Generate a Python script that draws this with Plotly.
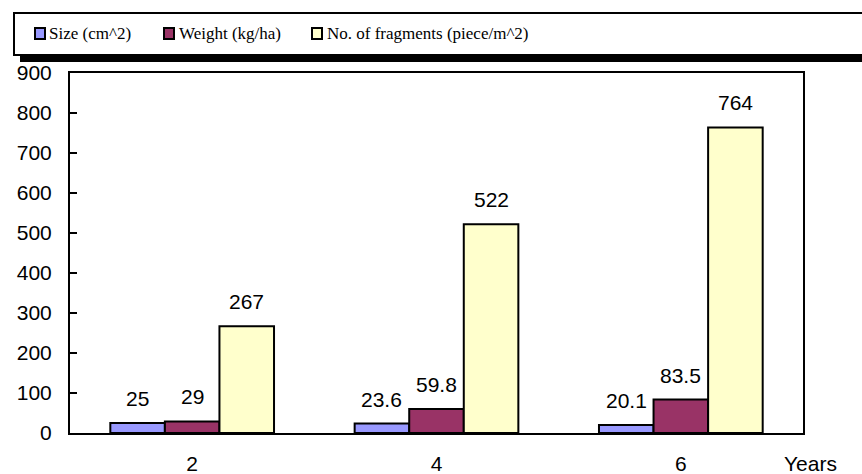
import plotly.graph_objects as go

# Data
years = ["2", "4", "6"]
series_names = ["Size (cm^2)", "Weight (kg/ha)", "No. of fragments (piece/m^2)"]
size_cm2 = [25, 23.6, 20.1]
weight_kg_ha = [29, 59.8, 83.5]
fragments_m2 = [267, 522, 764]
colors = ["#9999FF", "#993366", "#FFFFCC"]
y_ticks = [0, 100, 200, 300, 400, 500, 600, 700, 800, 900]

W, H = 862, 474
L, R, T, B = 70, 59, 73, 41
plot_w = W - L - R
plot_h = H - T - B


def px_x(px):
    return (px - L) / plot_w


def px_y(py):
    return (H - B - py) / plot_h


series = [size_cm2, weight_kg_ha, fragments_m2]
group_w = 0.67
bar_w = group_w / 3
xs = list(range(len(years)))

fig = go.Figure()
annotations = []
for k, (name, vals, col) in enumerate(zip(series_names, series, colors)):
    off = -group_w / 2 + k * bar_w
    fig.add_trace(go.Bar(
        x=xs, y=vals, name=name, width=bar_w, offset=off,
        marker=dict(color=col, line=dict(color="black", width=2)),
        showlegend=False,
    ))
    for i, v in zip(xs, vals):
        annotations.append(dict(
            x=i + off + bar_w / 2, y=v, xref="x", yref="y",
            text=f"{v:g}", showarrow=False, yanchor="bottom", yshift=11,
            font=dict(family="Liberation Sans, Arial", size=21, color="black"),
        ))

annotations.append(dict(
    x=px_x(810), y=px_y(463), xref="paper", yref="paper", text="Years",
    showarrow=False, xanchor="center", yanchor="middle",
    font=dict(family="Liberation Sans, Arial", size=21, color="black"),
))

shapes = []
# legend shadow and box
shapes.append(dict(type="rect", xref="paper", yref="paper",
                   x0=px_x(20), x1=px_x(880), y0=px_y(62), y1=px_y(54),
                   fillcolor="black", line=dict(width=0), layer="above"))
shapes.append(dict(type="rect", xref="paper", yref="paper",
                   x0=px_x(14), x1=px_x(880), y0=px_y(55), y1=px_y(13),
                   fillcolor="white", line=dict(color="black", width=2), layer="above"))
legend_items = [(35, 47), (164, 177), (312, 325)]
for (sx, tx), name, col in zip(legend_items, series_names, colors):
    shapes.append(dict(type="rect", xref="paper", yref="paper",
                       x0=px_x(sx), x1=px_x(sx + 10), y0=px_y(39), y1=px_y(28),
                       fillcolor=col, line=dict(color="black", width=2), layer="above"))
    annotations.append(dict(
        x=px_x(tx), y=px_y(34), xref="paper", yref="paper", text=name,
        showarrow=False, xanchor="left", yanchor="middle",
        font=dict(family="Liberation Serif, Times New Roman", size=17, color="black"),
    ))

fig.update_layout(
    width=W, height=H,
    margin=dict(l=L, r=R, t=T, b=B, pad=0),
    paper_bgcolor="white", plot_bgcolor="white",
    barmode="overlay",
    shapes=shapes, annotations=annotations,
    font=dict(family="Liberation Sans, Arial", size=21, color="black"),
)
fig.update_xaxes(
    range=[-0.5, len(years) - 0.5], tickvals=xs, ticktext=years,
    showgrid=False, zeroline=False, showline=True, linecolor="black",
    linewidth=2, mirror=True, ticks="", ticklabelstandoff=11,
    tickfont=dict(size=21), automargin=False,
)
fig.update_yaxes(
    range=[0, 900], tickvals=y_ticks, showgrid=False, zeroline=False,
    showline=True, linecolor="black", linewidth=2, mirror=True,
    ticks="inside", ticklen=7, tickwidth=2, tickcolor="black",
    ticklabelstandoff=12, tickfont=dict(size=21), automargin=False,
)

fig.write_html("out.html")
